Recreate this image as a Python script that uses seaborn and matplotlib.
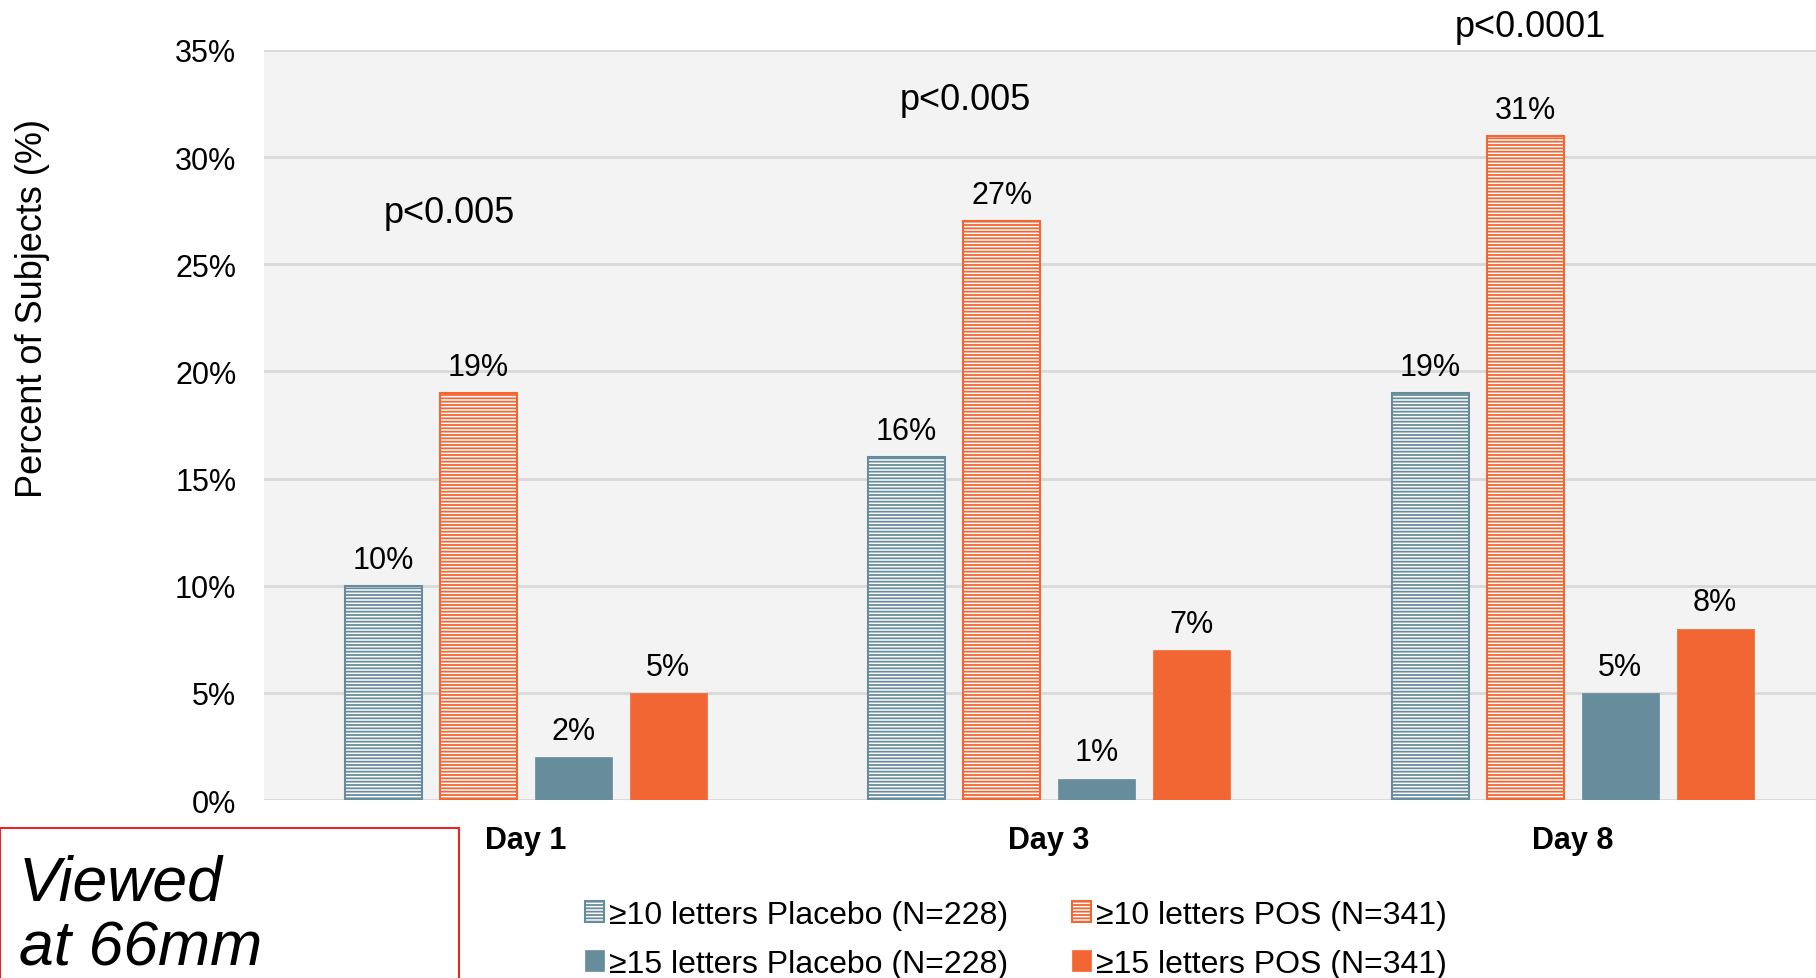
import pandas as pd
import matplotlib.pyplot as plt
import seaborn as sns
from matplotlib.patches import Rectangle

# values
days = ['Day 1', 'Day 3', 'Day 8']
series = ['≥10 letters Placebo (N=228)', '≥10 letters POS (N=341)',
          '≥15 letters Placebo (N=228)', '≥15 letters POS (N=341)']
placebo_10 = [10, 16, 19]
pos_10 = [19, 27, 31]
placebo_15 = [2, 1, 5]
pos_15 = [5, 7, 8]
p_values = ['p<0.005', 'p<0.005', 'p<0.0001']

blue = '#678C9B'
orange = '#F26633'
colors = [blue, orange, blue, orange]
hatched = [True, True, False, False]

sns.set_style('white')
plt.rcParams['font.family'] = ['Liberation Sans', 'DejaVu Sans']
plt.rcParams['hatch.linewidth'] = 1.3
for k in ['text.color', 'axes.labelcolor', 'xtick.color', 'ytick.color']:
    plt.rcParams[k] = 'black'

df = pd.DataFrame({
    'day': days * 4,
    'series': [s for s in series for _ in days],
    'value': placebo_10 + pos_10 + placebo_15 + pos_15,
})

fig = plt.figure(figsize=(18.16, 9.79), dpi=100)
ax = fig.add_axes([0.1454, 0.1818, 0.8546, 0.7662])
ax.set_facecolor('#F3F3F3')

sns.barplot(data=df, x='day', y='value', hue='series', hue_order=series,
            palette=colors, width=0.726, gap=0.19, saturation=1,
            legend=False, ax=ax, zorder=3)

for cont, col, h in zip(ax.containers, colors, hatched):
    for p in cont.patches:
        if h:
            p.set_facecolor('white')
            p.set_edgecolor(col)
            p.set_hatch('-----')
            p.set_linewidth(1.5)
        else:
            p.set_facecolor(col)
            p.set_edgecolor(col)
            p.set_linewidth(0.5)
    ax.bar_label(cont, fmt='{:.0f}%', padding=8, fontsize=22)

# p-value annotations
p_pos = [(-0.146, 27.4), (0.84, 32.7), (1.92, 36.1)]
for (x, y), txt in zip(p_pos, p_values):
    ax.text(x, y, txt, ha='center', va='center', fontsize=26, clip_on=False)

ax.set_ylim(0, 35)
ax.set_xlim(-0.5, 2.465)
ax.set_yticks(range(0, 36, 5))
ax.set_yticklabels([f'{v}%' for v in range(0, 36, 5)], fontsize=22)
ax.set_xticks(range(len(days)))
ax.set_xticklabels(days, fontsize=22, fontweight='bold')
ax.tick_params(axis='y', length=0, pad=20)
ax.tick_params(axis='x', length=0, pad=18)
ax.yaxis.grid(True, color='#D9D9D9', linewidth=2, zorder=0)
ax.set_axisbelow(True)
for s in ax.spines.values():
    s.set_visible(False)
ax.set_xlabel('')
ax.set_ylabel('Percent of Subjects (%)', fontsize=26)
ax.yaxis.set_label_coords(-0.138, 0.657)

handles = [ax.containers[i] for i in [0, 2, 1, 3]]
labels = [series[i] for i in [0, 2, 1, 3]]
fig.legend(handles, labels, ncol=2, loc='upper left',
           bbox_to_anchor=(0.322, 0.080), frameon=False, fontsize=23,
           borderpad=0, borderaxespad=0, handlelength=0.6, handleheight=0.6,
           handletextpad=0.15, columnspacing=2.0, labelspacing=0.6)

# "Viewed at 66mm" overlay box
fig.patches.append(Rectangle((0, -0.1), 459 / 1816, 0.1 + 1 - 829 / 979,
                             transform=fig.transFigure, fill=False,
                             edgecolor='#E8262A', linewidth=1.5))
fig.text(0.0102, 0.0800, 'Viewed', fontsize=45, style='italic')
fig.text(0.0102, 0.0135, 'at 66mm', fontsize=45, style='italic')

fig.savefig('out.png', dpi=100)
